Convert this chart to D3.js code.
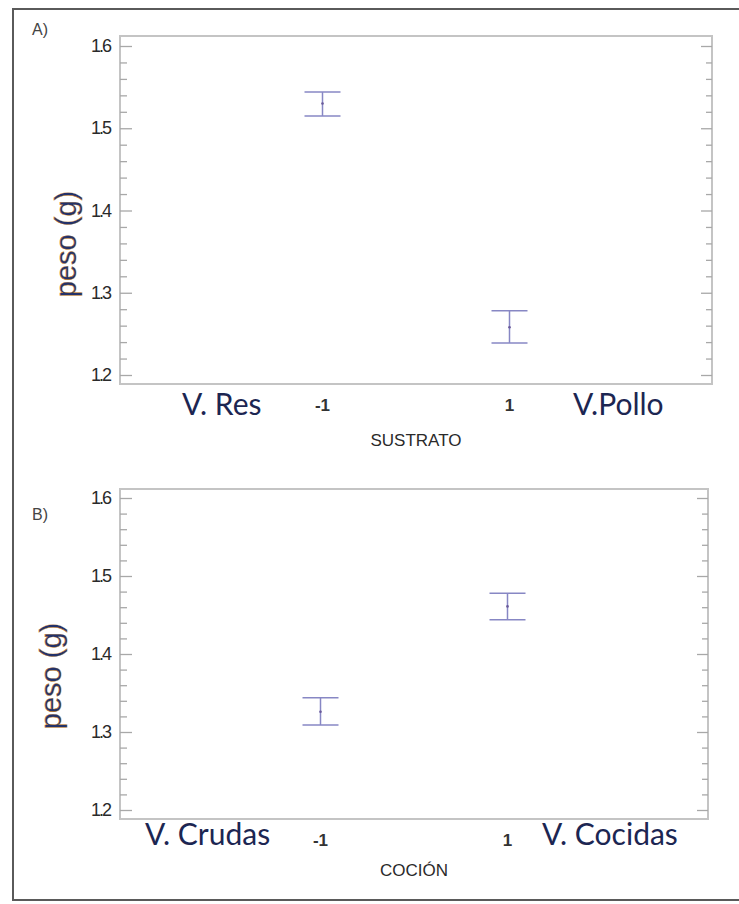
<!DOCTYPE html>
<html>
<head>
<meta charset="utf-8">
<script src="https://cdn.jsdelivr.net/npm/d3@7"></script>
<style>
  body { margin: 0; background: #fff; }
  svg { display: block; }
</style>
</head>
<body>
<div id="chart"></div>
<script>
// factor levels
var levels = [-1, 1];

// A) SUSTRATO: mean and interval limits
var sustratoMean = [1.530, 1.258];
var sustratoLow = [1.515, 1.239];
var sustratoHigh = [1.544, 1.278];

// B) COCCIÓN
var coccionMean = [1.326, 1.461];
var coccionLow = [1.309, 1.444];
var coccionHigh = [1.344, 1.478];

var yTicks = [1.2, 1.3, 1.4, 1.5, 1.6];
var yTickLabels = ["1.2", "1.3", "1.4", "1.5", "1.6"];
var yMinor = [1.22, 1.24, 1.26, 1.28, 1.32, 1.34, 1.36, 1.38, 1.42, 1.44, 1.46, 1.48, 1.52, 1.54, 1.56, 1.58];
var xTickLabels = ["-1", "1"];

var width = 739, height = 904;

var svg = d3.select("#chart").append("svg")
    .attr("width", width)
    .attr("height", height);

// outer frame (right side runs off the picture)
svg.append("rect")
    .attr("x", 13).attr("y", 9)
    .attr("width", 740).attr("height", 891)
    .attr("fill", "none")
    .attr("stroke", "#5a5a5a")
    .attr("stroke-width", 2);

var panels = [
    {
        tag: "A)", tagY: 35,
        left: 120, right: 712, top: 36, bottom: 384,
        yTop: 46, yBottom: 375,
        mean: sustratoMean, low: sustratoLow, high: sustratoHigh,
        title: "SUSTRATO", titleY: 446,
        tickY: 411,
        leftName: "V. Res", leftNameX: 182, rightName: "V.Pollo", rightNameX: 573, nameY: 415,
        ylabX: 76, ylabY: 244
    },
    {
        tag: "B)", tagY: 520,
        left: 120, right: 708, top: 489, bottom: 819,
        yTop: 498, yBottom: 810,
        mean: coccionMean, low: coccionLow, high: coccionHigh,
        title: "COCIÓN", titleY: 876,
        tickY: 846,
        leftName: "V. Crudas", leftNameX: 145, rightName: "V. Cocidas", rightNameX: 542, nameY: 845,
        ylabX: 61, ylabY: 676
    }
];

panels.forEach(drawPanel);

function drawPanel(p) {
    var g = svg.append("g");

    var y = d3.scaleLinear()
        .domain([1.2, 1.6])
        .range([p.yBottom, p.yTop]);

    var mid = (p.left + p.right) / 2;
    var x = d3.scaleLinear()
        .domain([-1, 1])
        .range([mid - 93.5, mid + 93.5]);

    // plot box
    g.append("rect")
        .attr("x", p.left).attr("y", p.top)
        .attr("width", p.right - p.left).attr("height", p.bottom - p.top)
        .attr("fill", "none")
        .attr("stroke", "#c4c4c4")
        .attr("stroke-width", 2);

    // ticks, both sides pointing inwards
    function ticks(axis, xPos) {
        var a = g.append("g")
            .attr("transform", "translate(" + xPos + ",0)")
            .call(axis);
        a.select(".domain").remove();
        a.selectAll("line").attr("stroke", "#a8a8a8").attr("stroke-width", 1.3);
        a.selectAll("text").remove();
    }
    ticks(d3.axisLeft(y).tickValues(yTicks).tickSize(-12), p.left);
    ticks(d3.axisLeft(y).tickValues(yMinor).tickSize(-7), p.left);
    ticks(d3.axisRight(y).tickValues(yTicks).tickSize(-11), p.right);
    ticks(d3.axisRight(y).tickValues(yMinor).tickSize(-6), p.right);

    // y tick labels
    g.selectAll(".ylab")
        .data(yTicks)
        .enter().append("text")
        .attr("x", 110)
        .attr("y", function(d) { return y(d) + 6; })
        .attr("text-anchor", "end")
        .attr("font-family", "Liberation Sans, Arial, sans-serif")
        .attr("font-size", 18)
        .attr("letter-spacing", -2)
        .attr("fill", "#2a2a2a")
        .text(function(d, i) { return yTickLabels[i]; });

    // x tick labels
    g.selectAll(".xlab")
        .data(levels)
        .enter().append("text")
        .attr("x", function(d) { return x(d); })
        .attr("y", p.tickY)
        .attr("text-anchor", "middle")
        .attr("font-family", "Liberation Sans, Arial, sans-serif")
        .attr("font-weight", "bold")
        .attr("font-size", 17)
        .attr("fill", "#333")
        .text(function(d, i) { return xTickLabels[i]; });

    // axis title
    g.append("text")
        .attr("x", mid).attr("y", p.titleY)
        .attr("text-anchor", "middle")
        .attr("font-family", "Liberation Sans, Arial, sans-serif")
        .attr("font-size", 17)
        .attr("fill", "#2a2a2a")
        .text(p.title);

    // panel tag
    g.append("text")
        .attr("x", 32).attr("y", p.tagY)
        .attr("font-family", "Liberation Sans, Arial, sans-serif")
        .attr("font-size", 16)
        .attr("fill", "#444")
        .text(p.tag);

    // level names
    var nameStyle = function(t) {
        t.attr("font-family", "Lato, sans-serif")
            .attr("font-size", 30)
            .attr("fill", "#1c2652");
    };
    g.append("text").attr("x", p.leftNameX).attr("y", p.nameY).call(nameStyle).text(p.leftName);
    g.append("text").attr("x", p.rightNameX).attr("y", p.nameY).call(nameStyle).text(p.rightName);

    // y label
    g.append("text")
        .attr("transform", "translate(" + p.ylabX + "," + p.ylabY + ") rotate(-90)")
        .attr("text-anchor", "middle")
        .attr("font-family", "Liberation Sans, Arial, sans-serif")
        .attr("font-size", 29)
        .attr("fill", "#23326a")
        .attr("stroke", "#c8801c")
        .attr("stroke-width", 0.4)
        .text("peso (g)");

    // intervals
    var bars = g.selectAll(".bar")
        .data(levels)
        .enter().append("g");

    var col = "#8787c4";
    bars.append("line")
        .attr("x1", function(d) { return x(d); })
        .attr("x2", function(d) { return x(d); })
        .attr("y1", function(d, i) { return y(p.low[i]); })
        .attr("y2", function(d, i) { return y(p.high[i]); })
        .attr("stroke", col).attr("stroke-width", 1.5);
    bars.append("line")
        .attr("x1", function(d) { return x(d) - 18; })
        .attr("x2", function(d) { return x(d) + 18; })
        .attr("y1", function(d, i) { return y(p.low[i]); })
        .attr("y2", function(d, i) { return y(p.low[i]); })
        .attr("stroke", col).attr("stroke-width", 1.5);
    bars.append("line")
        .attr("x1", function(d) { return x(d) - 18; })
        .attr("x2", function(d) { return x(d) + 18; })
        .attr("y1", function(d, i) { return y(p.high[i]); })
        .attr("y2", function(d, i) { return y(p.high[i]); })
        .attr("stroke", col).attr("stroke-width", 1.5);
    bars.append("circle")
        .attr("cx", function(d) { return x(d); })
        .attr("cy", function(d, i) { return y(p.mean[i]); })
        .attr("r", 1.3)
        .attr("fill", "#6a5a9a");
}
</script>
</body>
</html>
